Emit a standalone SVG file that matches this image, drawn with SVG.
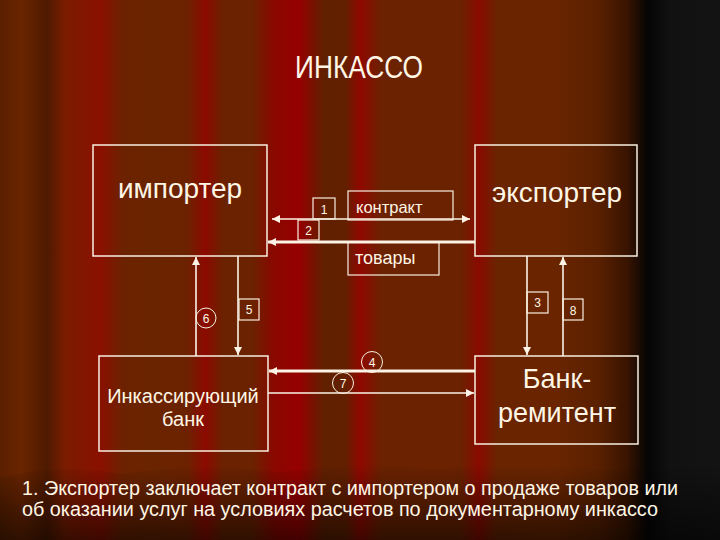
<svg xmlns="http://www.w3.org/2000/svg" width="720" height="540" viewBox="0 0 720 540">
  <defs>
    <linearGradient id="bg" x1="0" y1="0" x2="720" y2="0" gradientUnits="userSpaceOnUse">
      <stop offset="0" stop-color="#5a2000"/>
      <stop offset="0.03" stop-color="#6a2400"/>
      <stop offset="0.065" stop-color="#4e1a00"/>
      <stop offset="0.09" stop-color="#7a1c00"/>
      <stop offset="0.14" stop-color="#8a1000"/>
      <stop offset="0.17" stop-color="#6c2200"/>
      <stop offset="0.21" stop-color="#6a2400"/>
      <stop offset="0.26" stop-color="#6c2200"/>
      <stop offset="0.285" stop-color="#8c0a00"/>
      <stop offset="0.31" stop-color="#6a2200"/>
      <stop offset="0.35" stop-color="#6a2200"/>
      <stop offset="0.38" stop-color="#8a0800"/>
      <stop offset="0.415" stop-color="#960000"/>
      <stop offset="0.45" stop-color="#602000"/>
      <stop offset="0.48" stop-color="#622000"/>
      <stop offset="0.5" stop-color="#900800"/>
      <stop offset="0.53" stop-color="#6a2200"/>
      <stop offset="0.64" stop-color="#6a2200"/>
      <stop offset="0.665" stop-color="#8a0a00"/>
      <stop offset="0.69" stop-color="#6a2400"/>
      <stop offset="0.77" stop-color="#6a2500"/>
      <stop offset="0.83" stop-color="#5a2000"/>
      <stop offset="0.87" stop-color="#3a1400"/>
      <stop offset="0.9" stop-color="#050505"/>
      <stop offset="0.93" stop-color="#111111"/>
      <stop offset="1" stop-color="#131313"/>
    </linearGradient>
    <linearGradient id="shade" x1="0" y1="0" x2="0" y2="1">
      <stop offset="0" stop-color="#000" stop-opacity="0"/>
      <stop offset="0.45" stop-color="#000" stop-opacity="0.25"/>
      <stop offset="1" stop-color="#000" stop-opacity="0.55"/>
    </linearGradient>
    <marker id="arr" viewBox="0 0 10 10" refX="10" refY="5" markerWidth="8" markerHeight="8" markerUnits="userSpaceOnUse" orient="auto-start-reverse">
      <path d="M0,0 L10,5 L0,10 Z" fill="#fbf3e6"/>
    </marker>
    <style>
      .box { fill: none; stroke: #f8efe0; stroke-width: 1.5; }
      .lbl { fill: none; stroke: #f8efe0; stroke-width: 1.2; }
      .ln { stroke: #fbf3e6; stroke-width: 1.6; fill: none; }
      .thick { stroke-width: 2.8; }
      .t { fill: #fff6e6; font-family: "Liberation Sans", Arial, sans-serif; }
      .n { fill: #fff6e6; font-family: "Liberation Sans", Arial, sans-serif; font-size: 12px; text-anchor: middle; }
    </style>
  </defs>

  <rect x="0" y="0" width="720" height="540" fill="url(#bg)"/>
  <path d="M0,478 Q60,462 120,474 Q200,462 280,472 Q360,460 440,470 Q520,458 600,470 L720,468 L720,540 L0,540 Z" fill="url(#shade)"/>

  <g id="title">
    <text class="t" x="295" y="78" font-size="31" textLength="128" lengthAdjust="spacingAndGlyphs">ИНКАССО</text>
  </g>

  <g id="importer">
    <rect class="box" x="93" y="145" width="174" height="111"/>
    <text class="t" x="180" y="198" font-size="28" text-anchor="middle">импортер</text>
  </g>

  <g id="exporter">
    <rect class="box" x="475" y="145" width="162" height="111"/>
    <text class="t" x="557" y="202" font-size="28" text-anchor="middle">экспортер</text>
  </g>

  <g id="collecting-bank">
    <rect class="box" x="99" y="356" width="169" height="95"/>
    <text class="t" x="183" y="403" font-size="20" text-anchor="middle">Инкассирующий</text>
    <text class="t" x="183" y="426" font-size="20" text-anchor="middle">банк</text>
  </g>

  <g id="remitting-bank">
    <rect class="box" x="475" y="356" width="163" height="88"/>
    <text class="t" x="557" y="388" font-size="27" text-anchor="middle">Банк-</text>
    <text class="t" x="557" y="422" font-size="27" text-anchor="middle">ремитент</text>
  </g>

  <g id="contract">
    <rect class="lbl" x="348" y="191" width="105" height="29"/>
    <text class="t" x="356" y="213" font-size="16.5">контракт</text>
  </g>

  <g id="goods">
    <rect class="lbl" x="348" y="242" width="91" height="33"/>
    <text class="t" x="355" y="264" font-size="18">товары</text>
  </g>

  <g id="connectors">
    <line class="ln" x1="272" y1="219" x2="470" y2="219" marker-start="url(#arr)" marker-end="url(#arr)"/>
    <line class="ln thick" x1="475" y1="242" x2="268" y2="242" marker-end="url(#arr)"/>
    <line class="ln" x1="196" y1="356" x2="196" y2="257" marker-end="url(#arr)"/>
    <line class="ln" x1="238" y1="256" x2="238" y2="355" marker-end="url(#arr)"/>
    <line class="ln" x1="527" y1="256" x2="527" y2="355" marker-end="url(#arr)"/>
    <line class="ln" x1="563" y1="356" x2="563" y2="257" marker-end="url(#arr)"/>
    <line class="ln thick" x1="475" y1="371" x2="269" y2="371" marker-end="url(#arr)"/>
    <line class="ln" x1="268" y1="393" x2="474" y2="393" marker-end="url(#arr)"/>
  </g>

  <g id="step-labels">
    <g id="s1"><rect class="lbl" x="313" y="198" width="22" height="21" fill="#5a1a00"/><text class="n" x="324" y="214">1</text></g>
    <g id="s2"><rect class="lbl" x="298" y="220" width="21" height="20"/><text class="n" x="308.5" y="235">2</text></g>
    <g id="s3"><rect class="lbl" x="527" y="292" width="21" height="21"/><text class="n" x="537.5" y="307">3</text></g>
    <g id="s5"><rect class="lbl" x="239" y="299" width="20" height="21"/><text class="n" x="249" y="314">5</text></g>
    <g id="s8"><rect class="lbl" x="563" y="299" width="20" height="21"/><text class="n" x="573" y="315">8</text></g>
    <g id="s6"><circle cx="206" cy="318" r="10" fill="none" stroke="#f8efe0" stroke-width="1"/><text class="n" x="206" y="322.5">6</text></g>
    <g id="s4"><circle cx="372" cy="362" r="10.5" fill="none" stroke="#f8efe0" stroke-width="1"/><text class="n" x="372" y="366.5">4</text></g>
    <g id="s7"><circle cx="343" cy="383" r="10.5" fill="none" stroke="#f8efe0" stroke-width="1"/><text class="n" x="343" y="387.5">7</text></g>
  </g>

  <g id="caption">
    <text class="t" x="22" y="495" font-size="20" textLength="656" lengthAdjust="spacingAndGlyphs">1. Экспортер заключает контракт с импортером о продаже товаров или</text>
    <text class="t" x="22" y="516" font-size="20" textLength="636" lengthAdjust="spacingAndGlyphs">об оказании услуг на условиях расчетов по документарному инкассо</text>
  </g>
</svg>
